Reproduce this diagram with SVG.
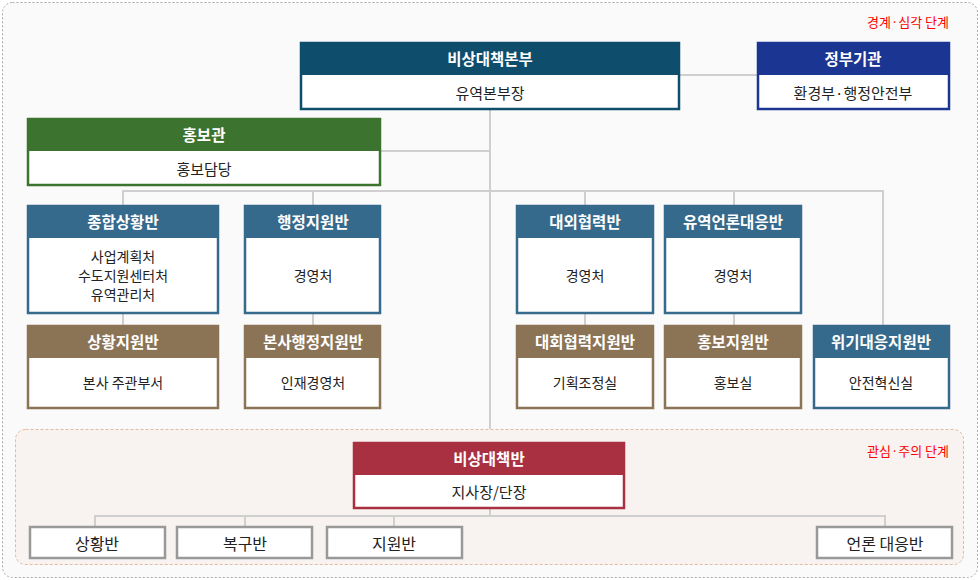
<svg xmlns="http://www.w3.org/2000/svg" width="980" height="580" viewBox="0 0 980 580">
<style>
text{font-family:"Noto Sans CJK KR","Noto Sans",sans-serif;text-anchor:middle;dominant-baseline:central}
.h{fill:#fff;font-size:15.5px;font-weight:bold}
.b{fill:#222;font-size:14px}
.s{fill:#222;font-size:15px}
.l{fill:#222;font-size:16px}
.body{fill:#fff;stroke-width:2.5}
.navy{fill:#0e4d6c}.blue{fill:#356a8c}.brown{fill:#8b7355}.green{fill:#3c732e}.gov{fill:#1b3592}.red{fill:#a83040}
.c{stroke:#cfcfcf;stroke-width:2;fill:none}
.tag{fill:#ff0000;font-size:13px;text-anchor:end}
.sb{fill:#fff;stroke:#999;stroke-width:2.5}
</style>
<rect x="2.5" y="2.5" width="975" height="575" rx="10" fill="#fafafa" stroke="#aaa" stroke-dasharray="2,2"/>
<rect x="15.5" y="429.5" width="948" height="135" rx="10" fill="#f8f3f0" stroke="#e2baa2" stroke-dasharray="3,2"/>
<text class="tag" x="949" y="21">경계·심각 단계</text>
<text class="tag" x="949" y="450">관심·주의 단계</text>
<g id="connectors">
<path class="c" d="M490 109V429M680 75H757M381 151H490M123 205V191H883V325M313 191V205M585 191V205M734 191V205M123 314V325M313 314V325M585 314V325M734 314V325"/>
<path class="c" d="M490 509V516M95 526V516H885V526M245 516V526M394 516V526"/>
</g>
<g id="n1"><rect class="body" x="301" y="43" width="378" height="66" stroke="#0e4d6c"/><rect class="navy" x="300" y="42" width="380" height="33"/><text class="h" x="490" y="58">비상대책본부</text><text class="s" x="490" y="92">유역본부장</text></g>
<g id="n2"><rect class="body" x="758" y="43" width="191" height="66" stroke="#1b3592"/><rect class="gov" x="757" y="42" width="193" height="33"/><text class="h" x="853" y="58">정부기관</text><text class="s" x="853" y="92">환경부·행정안전부</text></g>
<g id="n3"><rect class="body" x="28" y="119" width="352" height="66" stroke="#3c732e"/><rect class="green" x="27" y="118" width="354" height="33"/><text class="h" x="204" y="134">홍보관</text><text class="s" x="204" y="168">홍보담당</text></g>
<g id="n4"><rect class="body" x="28" y="206" width="190" height="107" stroke="#356a8c"/><rect class="blue" x="27" y="205" width="192" height="33"/><text class="h" x="123" y="221">종합상황반</text><text class="b" x="123" y="256">사업계획처</text><text class="b" x="123" y="275">수도지원센터처</text><text class="b" x="123" y="294">유역관리처</text></g>
<g id="n5"><rect class="body" x="245" y="206" width="135" height="107" stroke="#356a8c"/><rect class="blue" x="244" y="205" width="137" height="33"/><text class="h" x="313" y="221">행정지원반</text><text class="b" x="313" y="275">경영처</text></g>
<g id="n6"><rect class="body" x="517" y="206" width="136" height="107" stroke="#356a8c"/><rect class="blue" x="516" y="205" width="138" height="33"/><text class="h" x="585" y="221">대외협력반</text><text class="b" x="585" y="275">경영처</text></g>
<g id="n7"><rect class="body" x="665" y="206" width="136" height="107" stroke="#356a8c"/><rect class="blue" x="664" y="205" width="138" height="33"/><text class="h" x="733" y="221">유역언론대응반</text><text class="b" x="733" y="275">경영처</text></g>
<g id="n8"><rect class="body" x="28" y="326" width="190" height="82" stroke="#8b7355"/><rect class="brown" x="27" y="325" width="192" height="33"/><text class="h" x="123" y="341">상황지원반</text><text class="b" x="123" y="382">본사 주관부서</text></g>
<g id="n9"><rect class="body" x="245" y="326" width="135" height="82" stroke="#8b7355"/><rect class="brown" x="244" y="325" width="137" height="33"/><text class="h" x="313" y="341">본사행정지원반</text><text class="b" x="313" y="382">인재경영처</text></g>
<g id="n10"><rect class="body" x="517" y="326" width="136" height="82" stroke="#8b7355"/><rect class="brown" x="516" y="325" width="138" height="33"/><text class="h" x="585" y="341">대회협력지원반</text><text class="b" x="585" y="382">기획조정실</text></g>
<g id="n11"><rect class="body" x="665" y="326" width="136" height="82" stroke="#8b7355"/><rect class="brown" x="664" y="325" width="138" height="33"/><text class="h" x="733" y="341">홍보지원반</text><text class="b" x="733" y="382">홍보실</text></g>
<g id="n12"><rect class="body" x="814" y="326" width="135" height="82" stroke="#356a8c"/><rect class="blue" x="813" y="325" width="137" height="33"/><text class="h" x="881" y="341">위기대응지원반</text><text class="b" x="881" y="382">안전혁신실</text></g>
<g id="n13"><rect class="body" x="354" y="443" width="270" height="65" stroke="#a83040"/><rect class="red" x="353" y="442" width="272" height="33"/><text class="h" x="489" y="458">비상대책반</text><text class="s" x="489" y="491">지사장/단장</text></g>
<g id="n14"><rect class="sb" x="30" y="527" width="135" height="31"/><text class="l" x="97" y="543">상황반</text></g>
<g id="n15"><rect class="sb" x="177" y="527" width="135" height="31"/><text class="l" x="245" y="543">복구반</text></g>
<g id="n16"><rect class="sb" x="327" y="527" width="135" height="31"/><text class="l" x="394" y="543">지원반</text></g>
<g id="n17"><rect class="sb" x="817" y="527" width="135" height="31"/><text class="l" x="885" y="543">언론 대응반</text></g>
</svg>
